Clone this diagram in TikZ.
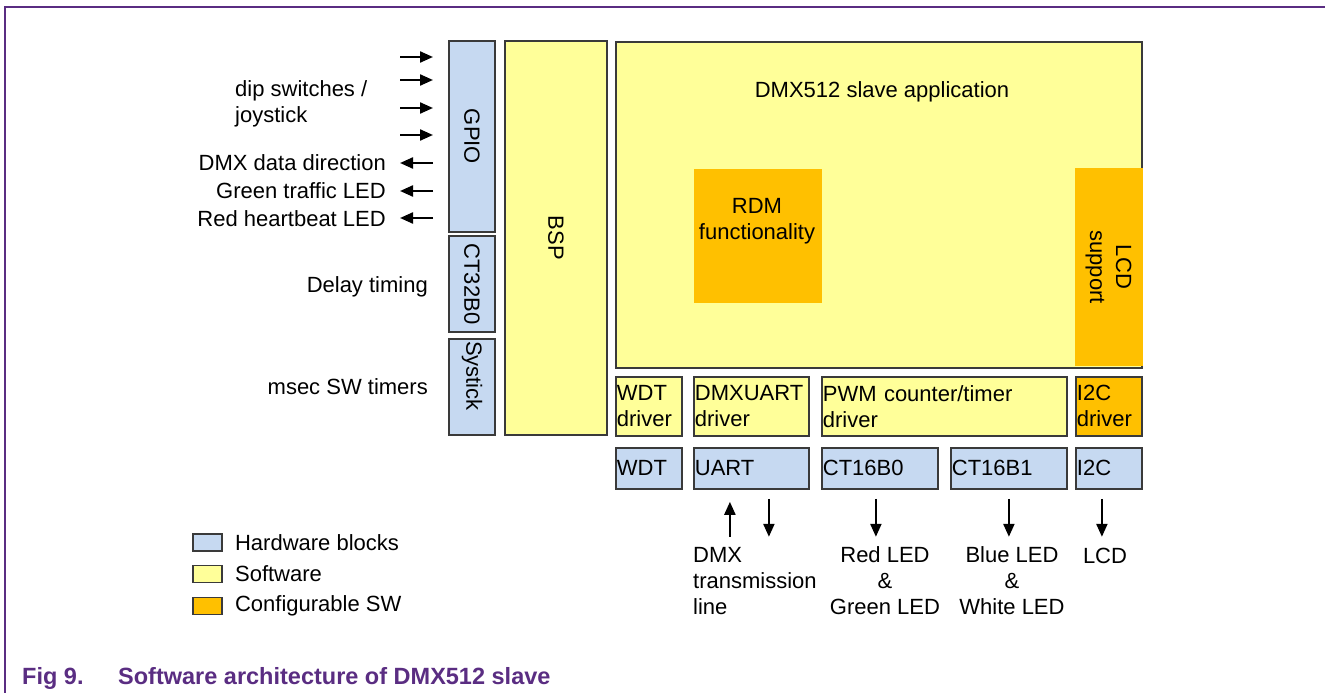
\documentclass[tikz,border=0pt]{standalone}
\usepackage{fontspec}
\setmainfont{Liberation Sans}
\usepackage{tikz}
\usetikzlibrary{positioning}
\usetikzlibrary{arrows.meta}
\definecolor{hwblue}{HTML}{C6D9F1}
\definecolor{swyellow}{HTML}{FFFF99}
\definecolor{cfgorange}{HTML}{FFC000}
\definecolor{nxppurple}{HTML}{5A2D82}
\definecolor{boxline}{HTML}{3A3A3A}
\tikzstyle{hw}=[draw=boxline,fill=hwblue,line width=1.8pt,inner sep=1pt]
\tikzstyle{sw}=[draw=boxline,fill=swyellow,line width=1.8pt,inner sep=1pt]
\tikzstyle{cfg}=[draw=boxline,fill=cfgorange,line width=1.8pt,inner sep=1pt]
\tikzstyle{txt}=[inner sep=0pt]
\tikzstyle{arr}=[-{Triangle[length=13pt,width=11pt]}, line width=2.2pt]

\begin{document}
\begin{tikzpicture}[x=1pt,y=-1pt,font=\fontsize{22}{26}\selectfont]

\useasboundingbox (0,0) rectangle (1325,693);
\draw[nxppurple, line width=2pt] (5,693) -- (5,7) -- (1325,7);

% left column: peripherals and BSP
\node[hw, rotate=-90, minimum width=191pt, minimum height=46pt] (gpio) at (472,136.5) {GPIO};
\node[hw, rotate=-90, minimum width=96pt, minimum height=46pt] (ct32) at (472,284) {CT32B0};
\node[hw, rotate=-90, minimum width=96pt, minimum height=46pt, text width=92pt, align=left] (systick) at (472,387) {Systick};
\node[sw, rotate=-90, minimum width=394pt, minimum height=102pt] (bsp) at (556,238) {BSP};

% application
\node[sw, minimum width=526pt, minimum height=326pt, anchor=north west] (app) at (615,41) {};
\node[txt] (apptitle) at (882,92) {DMX512 slave application};
\node[cfg, draw=none, minimum width=128pt, minimum height=134pt, anchor=north west] (rdm) at (693,168) {};
\node[txt, align=center] (rdmtxt) at (757,221) {RDM\\functionality};
\node[cfg, draw=none, rotate=-90, minimum width=198pt, minimum height=68pt, align=center] (lcdsup) at (1108.5,267) {LCD\\support};

% drivers
\node[sw, minimum width=66pt, minimum height=59pt, text width=64pt, align=left, anchor=north west] (wdtdrv) at (615,376) {WDT\\driver};
\node[sw, minimum width=115pt, minimum height=59pt, text width=113pt, align=left, anchor=north west] (uartdrv) at (693,376) {DMXUART\\driver};
\node[sw, minimum width=245pt, minimum height=59pt, text width=243pt, align=left, anchor=north west] (pwmdrv) at (821,376) {PWM counter/timer\\driver};
\node[cfg, minimum width=66pt, minimum height=59pt, text width=64pt, align=left, anchor=north west] (i2cdrv) at (1075,376) {I2C\\driver};

% hardware row
\node[hw, minimum width=66pt, minimum height=41pt, text width=64pt, align=left, anchor=north west] (wdt) at (615,447) {WDT};
\node[hw, minimum width=115pt, minimum height=41pt, text width=113pt, align=left, anchor=north west] (uart) at (693,447) {UART};
\node[hw, minimum width=116pt, minimum height=41pt, text width=114pt, align=left, anchor=north west] (ct16b0) at (821,447) {CT16B0};
\node[hw, minimum width=116pt, minimum height=41pt, text width=114pt, align=left, anchor=north west] (ct16b1) at (950,447) {CT16B1};
\node[hw, minimum width=66pt, minimum height=41pt, text width=64pt, align=left, anchor=north west] (i2c) at (1075,447) {I2C};

% outputs below the hardware
\draw[arr] ([xshift=-21.5pt,yshift=-47pt]uart.south) -- ++(0,-35);
\foreach \src/\dx in {uart/17.5, ct16b0/-4, ct16b1/0, i2c/-7}
    \draw[arr] ([xshift=\dx pt,yshift=-9pt]\src.south) -- ++(0,38);

\node[txt, anchor=west, align=left] (dmxline) at (693,581) {DMX\\transmission\\line};
\node[txt, align=center] (rgled) at (885,581) {Red LED\\\&\\Green LED};
\node[txt, align=center] (bwled) at (1012,581) {Blue LED\\\&\\White LED};
\node[txt] (lcdout) at (1105,556) {LCD};

% GPIO pins
\foreach \y in {57,80,108,135}
    \draw[arr] (400,\y) -- (433,\y);
\foreach \y in {163,191,218}
    \draw[arr] (433,\y) -- (400,\y);

\node[txt, anchor=west, align=left] (dip) at (235,104) {dip switches /\\joystick};
\node[txt, anchor=east] (dmxdir) at (386,163) {DMX data direction};
\node[txt, anchor=east] (greenled) at (386,191) {Green traffic LED};
\node[txt, anchor=east] (redled) at (386,219) {Red heartbeat LED};
\node[txt, anchor=east] (delay) at (428,287) {Delay timing};
\node[txt, anchor=east] (msec) at (428,387) {msec SW timers};

% legend
\node[hw, minimum width=29pt, minimum height=17pt] (keyhw) at (207.5,542.5) {};
\node[sw, minimum width=29pt, minimum height=17pt] (keysw) at (207.5,574) {};
\node[cfg, minimum width=29pt, minimum height=17pt] (keycfg) at (207.5,606) {};
\node[txt, right=12pt of keyhw] (keyhwtxt) {Hardware blocks};
\node[txt, right=12pt of keysw] (keyswtxt) {Software};
\node[txt, right=12pt of keycfg] (keycfgtxt) {Configurable SW};

% caption
\node[txt, anchor=base west, text=nxppurple, font=\fontsize{23.5}{28}\selectfont\bfseries] (fignum) at (22,684) {Fig 9.};
\node[txt, anchor=base west, text=nxppurple, font=\fontsize{23.5}{28}\selectfont\bfseries] (figtitle) at (118,684) {Software architecture of DMX512 slave};

\end{tikzpicture}
\end{document}
